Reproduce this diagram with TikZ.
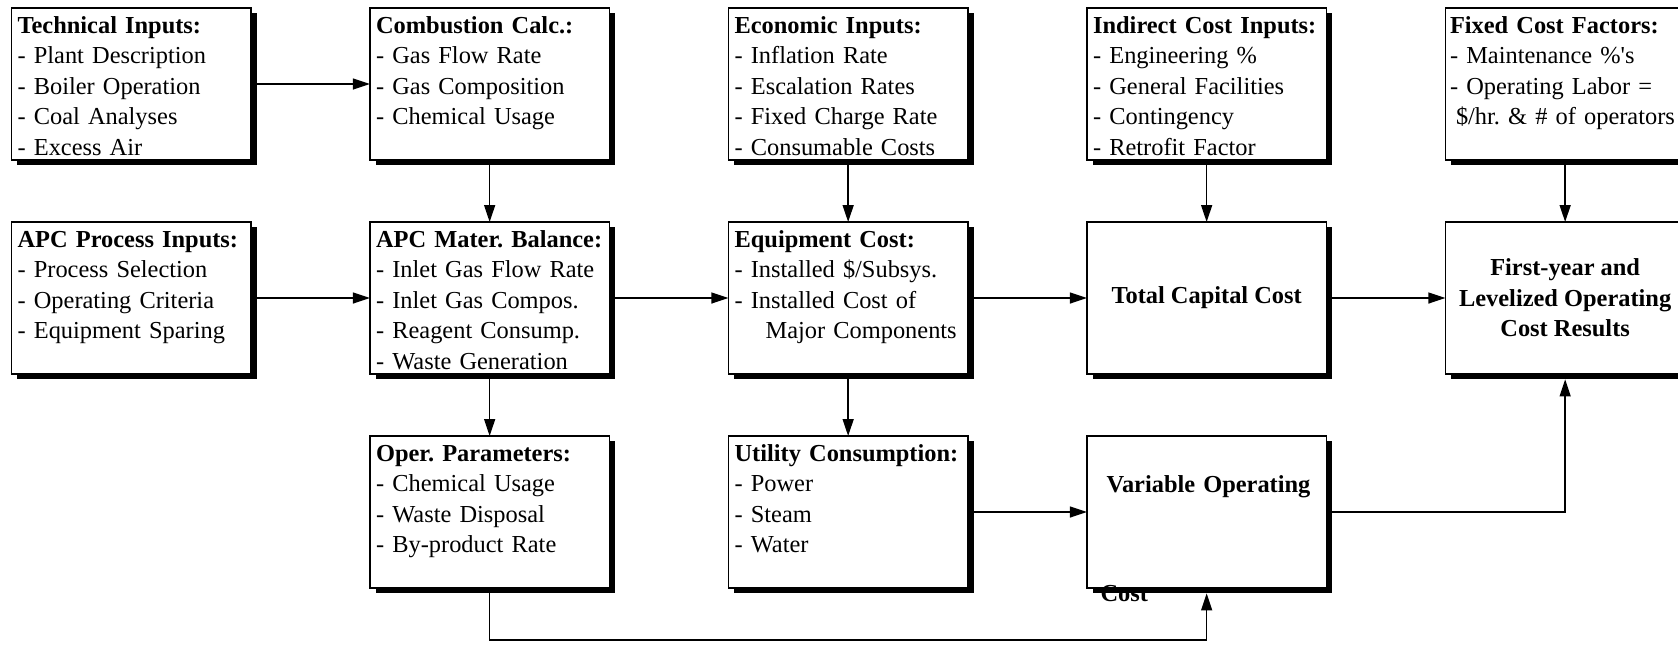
\documentclass[tikz,border=0pt]{standalone}
\usepackage{fontspec}
\setmainfont{Liberation Serif}
\usetikzlibrary{positioning,shadows,arrows.meta}
\newcommand{\boxfont}{\fontsize{12.2pt}{15.25pt}\selectfont}
\frenchspacing

\begin{document}
\begin{tikzpicture}[
	block/.style={rectangle, draw=black, line width=0.9pt, fill=white, outer sep=0pt,
		drop shadow={shadow xshift=3pt, shadow yshift=-2.7pt, opacity=1, fill=black},
		inner xsep=3.1pt, inner ysep=0pt, text width=113.55pt, text height=12.6pt, text depth=63.4pt,
		align=left, font=\boxfont},
	bigbox/.style={rectangle, draw=black, line width=0.9pt, fill=white, outer sep=0pt,
		drop shadow={shadow xshift=3pt, shadow yshift=-2.7pt, opacity=1, fill=black},
		inner sep=0pt, minimum width=119.75pt, minimum height=76pt, align=center, font=\boxfont\bfseries}
]
	\useasboundingbox (-5.7pt,4pt) rectangle (833.3pt,-318pt);
	\node[block, anchor=north west] (tech) at (0,0) {\textbf{Technical Inputs:}\\- Plant Description\\- Boiler Operation\\- Coal Analyses\\- Excess Air};
	\node[block] (combust) [right=59.5pt of tech] {\textbf{Combustion Calc.:}\\- Gas Flow Rate\\- Gas Composition\\- Chemical Usage};
	\node[block] (econ) [right=59.5pt of combust] {\textbf{Economic Inputs:}\\- Inflation Rate\\- Escalation Rates\\- Fixed Charge Rate\\- Consumable Costs};
	\node[block] (indirect) [right=59.5pt of econ] {\textbf{Indirect Cost Inputs:}\\- Engineering \%\\- General Facilities\\- Contingency\\- Retrofit Factor};
	\node[block, inner xsep=2.3pt, text width=115.15pt] (fixed) [right=59.5pt of indirect] {\textbf{Fixed Cost Factors:}\\- Maintenance \%\textquotesingle s\\- Operating Labor =\\\hspace*{3pt}\$/hr. \& \# of operators};
	\node[block] (apcin) [below=31pt of tech] {\textbf{APC Process Inputs:}\\- Process Selection\\- Operating Criteria\\- Equipment Sparing};
	\node[block] (apcmat) [below=31pt of combust] {\textbf{APC Mater. Balance:}\\- Inlet Gas Flow Rate\\- Inlet Gas Compos.\\- Reagent Consump.\\- Waste Generation};
	\node[block] (equip) [below=31pt of econ] {\textbf{Equipment Cost:}\\- Installed \$/Subsys.\\- Installed Cost of\\\hspace*{15.5pt}Major Components};
	\node[bigbox] (total) [below=31pt of indirect] {Total Capital Cost};
	\node[bigbox] (result) [below=31pt of fixed] {First-year and\\Levelized Operating\\Cost Results};
	\node[block] (oper) [below=31pt of apcmat] {\textbf{Oper. Parameters:}\\- Chemical Usage\\- Waste Disposal\\- By-product Rate};
	\node[block] (util) [below=31pt of equip] {\textbf{Utility Consumption:}\\- Power\\- Steam\\- Water};
	\node[block, text height=28.3pt, text depth=47.7pt, font=\boxfont\bfseries] (varop) [below=31pt of total] {\hspace*{6.75pt}Variable Operating\\[38.95pt]\hspace*{3.75pt}Cost};
	\begin{scope}[line width=0.7pt, -{Triangle[length=8.5pt, width=5.5pt]}]
	\draw (tech.east) -- (combust.west);
	\draw (apcin.east) -- (apcmat.west);
	\draw (apcmat.east) -- (equip.west);
	\draw (equip.east) -- (total.west);
	\draw (total.east) -- (result.west);
	\draw (util.east) -- (varop.west);
	\draw (combust.south) -- (apcmat.north);
	\draw (econ.south) -- (equip.north);
	\draw (indirect.south) -- (total.north);
	\draw (fixed.south) -- (result.north);
	\draw (apcmat.south) -- (oper.north);
	\draw (equip.south) -- (util.north);
	\draw (varop.east) -| ([yshift=-2.7pt]result.south);
	\draw (oper.south) -- ++(0,-26pt) -| ([yshift=-2.7pt]varop.south);
	\end{scope}
\end{tikzpicture}
\end{document}
